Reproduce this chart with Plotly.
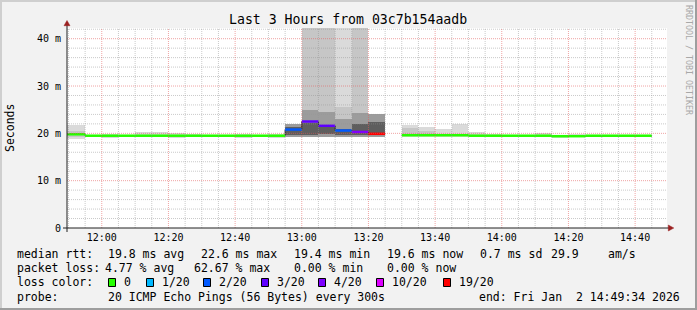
import plotly.graph_objects as go
from datetime import datetime, timedelta

# ---------------- data ----------------
DAY = "2026-01-02"
RANGE_START = "2026-01-02 11:49:34"
RANGE_END = "2026-01-02 14:49:34"

bin_start = ["11:45", "11:50", "11:55", "12:00", "12:05", "12:10", "12:15", "12:20", "12:25",
             "12:30", "12:35", "12:40", "12:45", "12:50", "12:55", "13:00", "13:05", "13:10",
             "13:15", "13:20", "13:25", "13:30", "13:35", "13:40", "13:45", "13:50", "13:55",
             "14:00", "14:05", "14:10", "14:15", "14:20", "14:25", "14:30", "14:35", "14:40"]

median_ms = [19.8, 19.8, 19.5, 19.5, 19.5, 19.5, 19.5, 19.5, 19.5,
             19.5, 19.5, 19.5, 19.5, 19.5, 20.8, 22.5, 21.6, 20.6,
             20.3, 19.9, None, 19.6, 19.6, 19.6, 19.6, 19.5, 19.5,
             19.5, 19.5, 19.5, 19.4, 19.4, 19.5, 19.5, 19.5, 19.5]

loss_pings = [0, 0, 0, 0, 0, 0, 0, 0, 0,
              0, 0, 0, 0, 0, 2, 3, 3, 2,
              4, 19, None, 0, 0, 0, 0, 0, 0,
              0, 0, 0, 0, 0, 0, 0, 0, 0]

# smoke bands (outermost / lightest first), ms
smoke_l0_lo = [18.8, 18.8, 19.2, 19.0, 19.3, 19.2, 19.2, 19.1, 19.3,
               19.3, 19.3, 19.0, 19.3, 19.1, None, None, None, 19.2,
               None, None, None, 19.3, 19.3, 19.3, 19.3, 19.3, 19.3,
               19.2, 19.2, 19.2, 19.1, 19.2, 19.2, 19.2, 19.2, 19.2]
smoke_l0_hi = [21.8, 21.8, 19.7, 19.8, 19.7, 20.3, 20.3, 20.1, 19.8,
               19.7, 19.7, 19.8, 19.7, 19.8, None, None, None, 45.0,
               None, None, None, 21.8, 21.3, 21.0, 21.9, 20.2, 19.8,
               19.7, 19.7, 20.1, 19.6, 19.9, 19.7, 19.7, 19.7, 19.7]

smoke_l1_lo = [19.2, 19.2, None, None, None, None, None, None, None,
               None, None, None, None, None, 19.2, 19.2, 19.2, 19.2,
               19.2, 19.2, None, 19.4, 19.4, None, None, None, None,
               None, None, None, None, None, None, None, None, None]
smoke_l1_hi = [20.4, 20.4, None, None, None, None, None, None, None,
               None, None, None, None, None, 22.0, 45.0, 45.0, 25.5,
               45.0, 24.1, None, 21.2, 20.5, None, None, None, None,
               None, None, None, None, None, None, None, None, None]

smoke_l2_lo = [19.6, 19.6, None, None, None, None, None, None, None,
               None, None, None, None, None, 19.3, 19.3, 19.3, 19.3,
               19.3, 19.3, None, None, None, None, None, None, None,
               None, None, None, None, None, None, None, None, None]
smoke_l2_hi = [20.1, 20.1, None, None, None, None, None, None, None,
               None, None, None, None, None, 21.9, 24.9, 24.6, 23.0,
               24.2, 24.1, None, None, None, None, None, None, None,
               None, None, None, None, None, None, None, None, None]

smoke_l3_lo = [None] * 14 + [19.7, 19.6, 19.8, 19.7, 19.7, 19.7] + [None] * 16
smoke_l3_hi = [None] * 14 + [21.4, 22.2, 21.5, 21.0, 21.9, 22.3] + [None] * 16

x_tick_labels = ["12:00", "12:20", "12:40", "13:00", "13:20", "13:40", "14:00", "14:20", "14:40"]
y_tick_vals = [0, 10, 20, 30, 40]
y_tick_labels = ["0", "10 m", "20 m", "30 m", "40 m"]

loss_thresholds = [0, 1, 2, 3, 4, 10, 19]
loss_labels = ["0", "1/20", "2/20", "3/20", "4/20", "10/20", "19/20"]

title_text = "Last 3 Hours from 03c7b154aadb"
y_title = "Seconds"
watermark = "RRDTOOL / TOBI OETIKER"
rtt_label = "median rtt:"
rtt_stats = ["19.8 ms avg", "22.6 ms max", "19.4 ms min", "19.6 ms now", "0.7 ms sd", "29.9", "am/s"]
loss_label = "packet loss:"
loss_stats = ["4.77 % avg", "62.67 % max", "0.00 % min", "0.00 % now"]
color_label = "loss color:"
probe_label = "probe:"
probe_text = "20 ICMP Echo Pings (56 Bytes) every 300s"
end_text = "end: Fri Jan  2 14:49:34 2026"

# ---------------- styles ----------------
MONO = "DejaVu Sans Mono"
LOSS_COLORS = ["#26ff00", "#00b8ff", "#0059ff", "#5e00ff", "#7e00ff", "#dd00ff", "#ff0000"]
SHADES = ["#dadada", "#c6c6c6", "#9c9c9c", "#5e5e5e"]
W, H = 697, 310
L, R, T, B = 67, 667, 28, 228

def px(x):
    return (x - L) / (R - L)

def py(y):
    return (B - y) / (B - T)

def t(hm):
    return datetime.strptime(f"{DAY} {hm}", "%Y-%m-%d %H:%M")

STEP = timedelta(minutes=5)
starts = [t(s) for s in bin_start]
centers = [s + STEP / 2 for s in starts]

fig = go.Figure()

# smoke
for (lo, hi), col in zip([(smoke_l0_lo, smoke_l0_hi), (smoke_l1_lo, smoke_l1_hi),
                          (smoke_l2_lo, smoke_l2_hi), (smoke_l3_lo, smoke_l3_hi)], SHADES):
    base, hgt = [], []
    for a, b in zip(lo, hi):
        if a is None or b is None:
            base.append(None); hgt.append(None)
        else:
            base.append(a); hgt.append(b - a)
    fig.add_trace(go.Bar(x=centers, y=hgt, base=base, width=300000,
                         marker=dict(color=col, line=dict(width=0)),
                         hoverinfo="skip", showlegend=False))

# dark median step line
sx, sy = [], []
for s, m in zip(starts, median_ms):
    if m is None:
        sx.append(None); sy.append(None); continue
    sx += [s, s + STEP]; sy += [m, m]
fig.add_trace(go.Scatter(x=sx, y=sy, mode="lines", line=dict(color="#202020", width=1),
                         connectgaps=False, hoverinfo="skip", showlegend=False))

def color_index(l):
    idx = 0
    for i, th in enumerate(loss_thresholds):
        if l >= th:
            idx = i
    return idx

for ci, col in enumerate(LOSS_COLORS):
    xs, ys = [], []
    for s, m, l in zip(starts, median_ms, loss_pings):
        if m is None or l is None:
            continue
        if color_index(l) == ci:
            xs += [s, s + STEP, None]; ys += [m, m, None]
    if xs:
        fig.add_trace(go.Scatter(x=xs, y=ys, mode="lines", line=dict(color=col, width=2.5),
                                 hoverinfo="skip", showlegend=False))

shapes = []
# grid (drawn above the smoke like rrdtool)
MINOR = "rgba(150,150,150,0.5)"
MAJOR = "rgba(225,90,90,0.55)"
YMAX = 42.26
for v in range(2, 43, 2):
    shapes.append(dict(type="line", xref="paper", yref="y", x0=0, x1=1, y0=v, y1=v,
                       line=dict(color=MAJOR if v % 10 == 0 else MINOR, width=1, dash="1px,1px"),
                       layer="above"))
g = t("11:50")
while g <= t("14:45"):
    major = g.minute % 20 == 0
    shapes.append(dict(type="line", xref="x", yref="paper", x0=g, x1=g, y0=0, y1=1,
                       line=dict(color=MAJOR if major else MINOR, width=1, dash="1px,1px"),
                       layer="above"))
    g += STEP

# axes
AX = "#202020"
AR = "#9b2020"
shapes.append(dict(type="line", xref="paper", yref="paper", x0=px(63), x1=px(669), y0=py(228), y1=py(228),
                   line=dict(color=AX, width=1), layer="above"))
shapes.append(dict(type="line", xref="paper", yref="paper", x0=px(67), x1=px(67), y0=py(232), y1=py(24),
                   line=dict(color=AX, width=1), layer="above"))
shapes.append(dict(type="path", xref="paper", yref="paper",
                   path=f"M {px(67)} {py(20.5)} L {px(64)} {py(25.7)} L {px(70)} {py(25.7)} Z",
                   fillcolor=AR, line=dict(color=AR, width=0.5), layer="above"))
shapes.append(dict(type="path", xref="paper", yref="paper",
                   path=f"M {px(673.8)} {py(228)} L {px(668.3)} {py(225)} L {px(668.3)} {py(231)} Z",
                   fillcolor=AR, line=dict(color=AR, width=0.5), layer="above"))

# outer 3d frame
shapes.append(dict(type="rect", xref="paper", yref="paper", x0=px(0), x1=px(W), y0=py(0), y1=py(2),
                   fillcolor="#cfcfcf", line=dict(width=0)))
shapes.append(dict(type="rect", xref="paper", yref="paper", x0=px(0), x1=px(2), y0=py(0), y1=py(H),
                   fillcolor="#cfcfcf", line=dict(width=0)))
shapes.append(dict(type="rect", xref="paper", yref="paper", x0=px(0), x1=px(W), y0=py(H - 2), y1=py(H),
                   fillcolor="#9e9e9e", line=dict(width=0)))
shapes.append(dict(type="rect", xref="paper", yref="paper", x0=px(W - 2), x1=px(W), y0=py(0), y1=py(H),
                   fillcolor="#9e9e9e", line=dict(width=0)))

annotations = []

def ann(text, x, y, size=11.5, anchor="left", color="#000000", angle=0):
    annotations.append(dict(text=text.replace(" ", "\u00a0"), xref="paper", yref="paper",
                            x=px(x), y=py(y), xanchor=anchor, yanchor="middle",
                            showarrow=False, borderpad=0, textangle=angle,
                            font=dict(family=MONO, size=size, color=color)))

ann(title_text, 348, 19.5, size=13.2, anchor="center")
ann(y_title, 10, 128, angle=-90, anchor="center")
ann(watermark, 689, 60, size=8.3, anchor="center", color="#a8a8a8", angle=90)

LINE_Y = [254.3, 268.3, 282.3, 296.7]
ann(rtt_label, 15.5, LINE_Y[0])
for txt, x in zip(rtt_stats, [107, 199.5, 293, 386.2, 478.5, 549.5, 606.5]):
    ann(txt, x, LINE_Y[0])
ann(loss_label, 15.5, LINE_Y[1])
for txt, x in zip(loss_stats, [103.5, 193, 293, 386.2]):
    ann(txt, x, LINE_Y[1])
ann(color_label, 15.5, LINE_Y[2])
for lab, col, x in zip(loss_labels, LOSS_COLORS, [108, 146, 203, 261, 318, 376, 443]):
    shapes.append(dict(type="rect", xref="paper", yref="paper", x0=px(x + 0.5), x1=px(x + 7.5),
                       y0=py(278.5), y1=py(286.5), fillcolor=col, line=dict(color="#000000", width=1)))
    ann(lab, x + 14.5, LINE_Y[2])
ann(probe_label, 15.5, LINE_Y[3])
ann(probe_text, 107, LINE_Y[3])
ann(end_text, 681, LINE_Y[3], anchor="right")

tick_vals = [t(s) for s in x_tick_labels]

fig.update_layout(
    width=W, height=H,
    margin=dict(l=L, r=W - R, t=T, b=H - B, pad=0),
    paper_bgcolor="#f2f2f2", plot_bgcolor="#ffffff",
    barmode="overlay", bargap=0, showlegend=False,
    shapes=shapes, annotations=annotations,
    xaxis=dict(type="date", range=[RANGE_START, RANGE_END], tickvals=tick_vals, ticktext=x_tick_labels,
               showgrid=False, zeroline=False, showline=False, ticks="", ticklabelstandoff=2,
               tickfont=dict(family=MONO, size=10, color="#000000"), fixedrange=True),
    yaxis=dict(range=[0, YMAX], tickvals=y_tick_vals, ticktext=y_tick_labels,
               showgrid=False, zeroline=False, showline=False, ticks="", ticklabelstandoff=5,
               tickfont=dict(family=MONO, size=10, color="#000000"), fixedrange=True),
)

fig.write_html("out.html")
